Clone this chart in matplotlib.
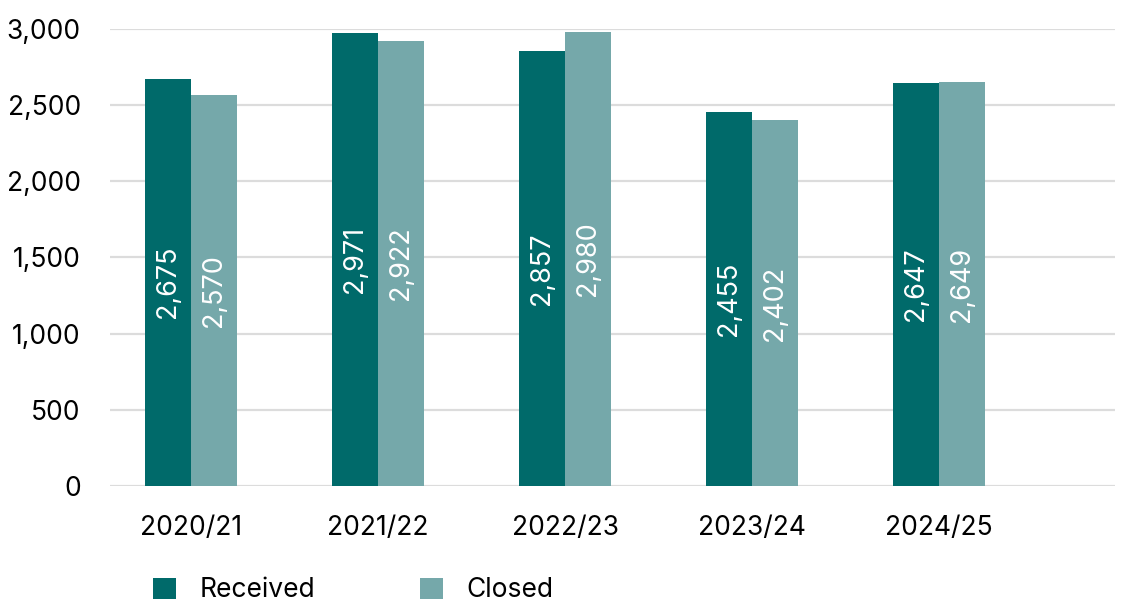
import numpy as np
import matplotlib
matplotlib.use("Agg")
import matplotlib.pyplot as plt
from matplotlib.ticker import FuncFormatter

# Complaints received vs closed per financial year
years = ["2020/21", "2021/22", "2022/23", "2023/24", "2024/25"]
received = [2675, 2971, 2857, 2455, 2647]
closed = [2570, 2922, 2980, 2402, 2649]

DARK = "#006a6a"
LIGHT = "#75a8aa"
GRID = "#dcdcdc"

plt.rcParams["font.family"] = ["Inter", "DejaVu Sans"]

fig = plt.figure(figsize=(11.29, 6.05), dpi=100)
ax = fig.add_axes([0.0974, 0.197, 0.8902, 0.755])

x = np.arange(len(years))
w = 0.246
bars_r = ax.bar(x - w / 2, received, w, color=DARK, label="Received", zorder=3)
bars_c = ax.bar(x + w / 2, closed, w, color=LIGHT, label="Closed", zorder=3)

# value labels, rotated and centred in each bar
for bars, vals in ((bars_r, received), (bars_c, closed)):
    for b, v in zip(bars, vals):
        ax.text(b.get_x() + b.get_width() / 2, v / 2, f"{v:,}",
                rotation=90, ha="center", va="center",
                color="white", fontsize=19.5, zorder=4)

ax.set_xlim(-0.433, 4.94)
ax.set_ylim(0, 3000)
ax.set_yticks(np.arange(0, 3001, 500))
ax.yaxis.set_major_formatter(FuncFormatter(lambda v, p: f"{int(v):,}"))
ax.set_xticks(x)
ax.set_xticklabels(years)
ax.tick_params(axis="both", length=0, labelsize=19, colors="black")
ax.tick_params(axis="x", pad=21)
ax.tick_params(axis="y", pad=21)

ax.grid(axis="y", color=GRID, linewidth=1.6, zorder=0)
for s in ax.spines.values():
    s.set_visible(False)

fig.legend(loc="center left", bbox_to_anchor=(0.1355, 0.024),
           ncol=2, frameon=False, fontsize=19,
           handlelength=0.88, handleheight=0.88, handletextpad=0.9,
           columnspacing=3.95, borderpad=0, borderaxespad=0)

fig.savefig("out.png", dpi=100)
